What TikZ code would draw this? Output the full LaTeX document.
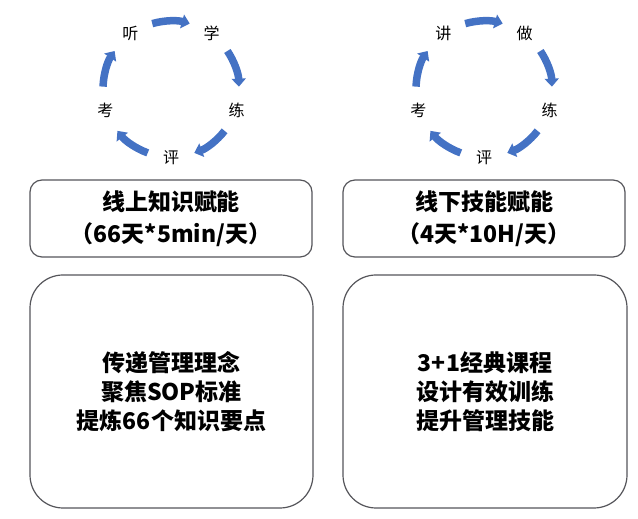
\documentclass[tikz,border=0pt]{standalone}
\usepackage{fontspec}
\setmainfont{Noto Sans CJK SC}
\usetikzlibrary{arrows.meta}
\definecolor{cycblue}{RGB}{68,114,196}
\definecolor{boxgray}{RGB}{85,85,90}

\begin{document}
\begin{tikzpicture}[x=1pt, y=1pt,
	word/.style={font=\fontsize{16}{16}\selectfont, inner sep=0pt},
	turn/.style={cycblue, line width=7.5pt, -{Triangle[width=14pt, length=8pt]}},
	card/.style={draw=boxgray, line width=1.2pt, rounded corners=12pt, align=center, inner sep=0pt, minimum width=282pt, minimum height=77pt, font=\bfseries\fontsize{23}{32}\selectfont},
	sheet/.style={card, rounded corners=33pt, minimum height=233pt, font=\bfseries\fontsize{23}{29}\selectfont}]
			
			\useasboundingbox (0,0) rectangle (638,519);
			
			\coordinate (lc) at (171,430);
			\coordinate (rc) at (484,430);
			
			% left cycle
			\node[word] (l1) at ([shift={(126:69)}]lc) {听};
			\node[word] (l2) at ([shift={(54:69)}]lc) {学};
			\node[word] (l3) at ([shift={(-18:69)}]lc) {练};
			\node[word] (l4) at ([shift={(-90:69)}]lc) {评};
			\node[word] (l5) at ([shift={(-162:69)}]lc) {考};
			
			% right cycle
			\node[word] (r1) at ([shift={(126:69)}]rc) {讲};
			\node[word] (r2) at ([shift={(54:69)}]rc) {做};
			\node[word] (r3) at ([shift={(-18:69)}]rc) {练};
			\node[word] (r4) at ([shift={(-90:69)}]rc) {评};
			\node[word] (r5) at ([shift={(-162:69)}]rc) {考};
			
			\foreach \c in {lc, rc}
				\foreach \a in {90, 18, -54, -126, 162}
					\draw[turn] ([shift={({\a+16}:68)}]\c) arc[start angle=\a+16, end angle=\a-16, radius=68];
			
			\node[card] (ltop) at (171,300.5) {线上知识赋能\\（66天*5min/天）};
			\node[card] (rtop) at (484,300.5) {线下技能赋能\\（4天*10H/天）};
			
			\node[sheet, minimum width=283pt] (lbot) at (171.5,127.5) {传递管理理念\\聚焦SOP标准\\提炼66个知识要点};
			\node[sheet, minimum width=284pt] (rbot) at (485,127.5) {3+1经典课程\\设计有效训练\\提升管理技能};
			
		\end{tikzpicture}
\end{document}
